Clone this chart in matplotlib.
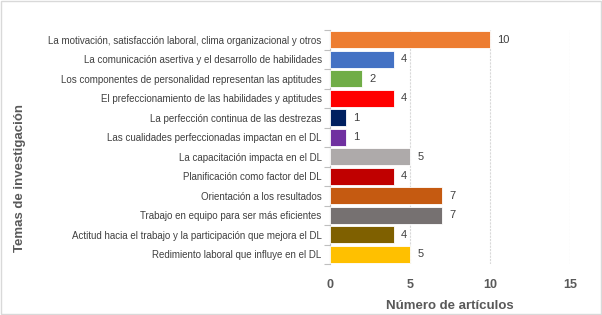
import matplotlib
matplotlib.use('Agg')
import matplotlib.pyplot as plt
from matplotlib.patches import Rectangle

temas = [
    "La motivación, satisfacción laboral, clima organizacional y otros",
    "La comunicación asertiva y el desarrollo de habilidades",
    "Los componentes de personalidad representan las aptitudes",
    "El prefeccionamiento de las habilidades y aptitudes",
    "La perfección continua de las destrezas",
    "Las cualidades perfeccionadas impactan en el DL",
    "La capacitación impacta en el DL",
    "Planificación como factor del DL",
    "Orientación a los resultados",
    "Trabajo en equipo para ser más eficientes",
    "Actitud hacia el trabajo y la participación que mejora el DL",
    "Redimiento laboral que influye en el DL",
]
articulos = [10, 4, 2, 4, 1, 1, 5, 4, 7, 7, 4, 5]
colores = ["#ED7D31", "#4472C4", "#70AD47", "#FF0000", "#002060", "#7030A0",
           "#AEAAAA", "#C00000", "#C55A11", "#767171", "#7F6000", "#FFC000"]
x_ticks = [0, 5, 10, 15]

plt.rcParams['font.family'] = ['Liberation Sans', 'DejaVu Sans']

fig = plt.figure(figsize=(6.02, 3.15), dpi=100)
ax = fig.add_axes([330/602, 1 - 264/315, 240/602, 234/315])

pos = list(range(len(temas)))
ax.barh(pos, articulos, color=colores, height=0.85, edgecolor='white', linewidth=0.6, zorder=3)
for p, v in zip(pos, articulos):
    ax.text(v + 0.45, p, str(v), va='center', ha='left', fontsize=8, color='#404040')

ax.set_ylim(len(temas) - 0.5, -0.5)
ax.set_xlim(0, 15)
ax.set_yticks(pos)
ax.set_yticklabels(temas, fontsize=7, color='#404040')
ax.set_yticks([p + 0.5 for p in range(-1, len(temas))], minor=True)
ax.tick_params(axis='y', which='major', length=0, pad=6)
ax.tick_params(axis='y', which='minor', length=4, color='#BFBFBF', width=0.8)
ax.set_xticks(x_ticks)
ax.set_xticklabels([str(t) for t in x_ticks], fontsize=9, color='#595959', fontweight='bold')
ax.tick_params(axis='x', length=0, pad=11)
ax.grid(axis='x', color='#D9D9D9', linestyle=(0, (2, 1)), linewidth=0.8, zorder=0)
for s in ['top', 'right', 'bottom']:
    ax.spines[s].set_visible(False)
ax.spines['left'].set_color('#BFBFBF')

ax.set_xlabel("Número de artículos", fontsize=9.5, fontweight='bold', color='#595959', labelpad=6)
fig.text(20/602, 1 - 178/315, "Temas de investigación", rotation=90, fontsize=9.5,
         fontweight='bold', color='#595959', ha='center', va='center')

fig.patches.append(Rectangle((0.002, 0.003), 0.996, 0.994, transform=fig.transFigure,
                             fill=False, edgecolor='#D9D9D9', linewidth=1))

plt.savefig("out.png", dpi=100)
